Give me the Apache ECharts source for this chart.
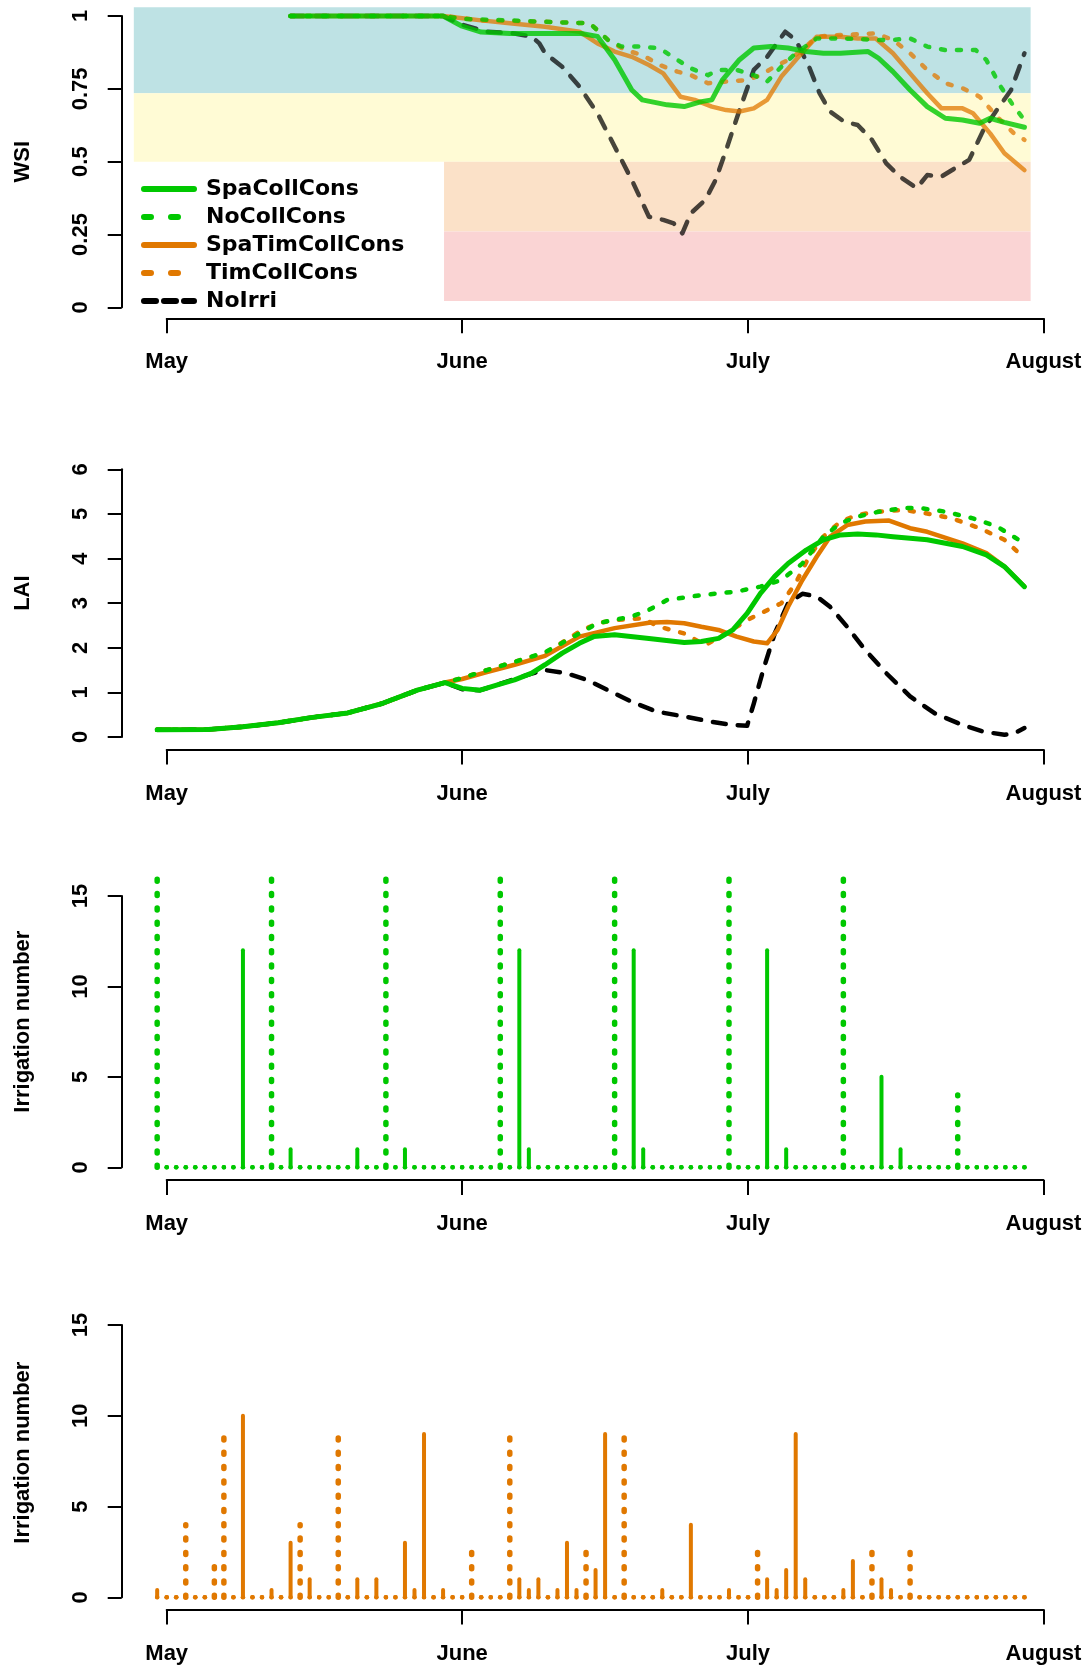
<!DOCTYPE html>
<html><head><meta charset="utf-8">
<script src="https://cdn.jsdelivr.net/npm/echarts@6/dist/echarts.min.js"></script>
<style>html,body{margin:0;padding:0;background:#fff}#c{width:1090px;height:1667px}</style>
</head><body><div id="c"></div>
<script>
// ---------------- DATA (x = days since 1 May) ----------------
const monthDays = [0, 31, 61, 92];
const monthNames = ['May', 'June', 'July', 'August'];
const seriesNames = ['SpaCollCons', 'NoCollCons', 'SpaTimCollCons', 'TimCollCons', 'NoIrri'];

// WSI stress-class bands
const bandLow   = [0.735, 0.5, 0.26, 0.022];
const bandHigh  = [1.03, 0.735, 0.5, 0.26];
const bandStart = [-3.45, -3.45, 29.1, 29.1];
const bandEnd   = [90.65, 90.65, 90.65, 90.65];

// WSI curves [day, value]
const wsiSpaCollCons = [[13,1],[29,1],[31,0.965],[33,0.945],[36,0.94],[40,0.94],[43.5,0.94],[45.2,0.93],[47,0.85],[48.8,0.746],[49.9,0.712],[52.5,0.695],[54.3,0.689],[56.1,0.706],[57.2,0.712],[58.3,0.78],[60.1,0.85],[61.6,0.89],[63.4,0.895],[65.2,0.89],[67.1,0.878],[68.9,0.872],[70.7,0.872],[73.6,0.878],[74.7,0.855],[76.2,0.809],[78,0.746],[79.8,0.689],[81.7,0.649],[83.5,0.643],[85.3,0.632],[86.4,0.649],[87.9,0.635],[90,0.618]];
const wsiNoCollCons = [[13,1],[29,1],[31,0.99],[36,0.985],[39.7,0.98],[44.4,0.975],[46.3,0.918],[47.7,0.895],[49.9,0.895],[51.7,0.889],[53.6,0.849],[55,0.82],[56.8,0.797],[57.9,0.815],[59.8,0.815],[61.6,0.797],[63,0.775],[64.5,0.826],[66,0.872],[68.2,0.923],[70.7,0.923],[74.4,0.918],[76.2,0.918],[78,0.923],[79.8,0.895],[81.7,0.883],[84.9,0.883],[86,0.849],[87.5,0.758],[88.9,0.689],[90,0.643]];
const wsiSpaTimCollCons = [[13,1],[29,1],[33,0.985],[36,0.975],[39.7,0.963],[43.3,0.946],[45.2,0.906],[47,0.878],[48.8,0.86],[50.6,0.832],[52.1,0.803],[53.9,0.723],[55.4,0.712],[57.2,0.689],[58.7,0.677],[60.1,0.672],[61.6,0.683],[63,0.712],[64.5,0.792],[66.3,0.86],[68.2,0.929],[70.7,0.929],[72.5,0.923],[74.4,0.923],[76.2,0.872],[78,0.803],[79.8,0.735],[81.3,0.683],[83.5,0.683],[84.6,0.666],[86.4,0.597],[87.9,0.529],[90,0.471]];
const wsiTimCollCons = [[13,1],[29,1],[33,0.985],[39.7,0.98],[44.4,0.975],[46.3,0.918],[48.1,0.883],[49.9,0.866],[51.7,0.832],[53.6,0.809],[55,0.797],[56.8,0.769],[58.7,0.775],[60.9,0.78],[62.3,0.797],[63.8,0.826],[65.2,0.849],[66.7,0.883],[68.2,0.929],[70.7,0.935],[74.4,0.94],[76.2,0.918],[78,0.872],[79.8,0.815],[81.7,0.769],[83.5,0.752],[85.3,0.723],[87.1,0.655],[88.9,0.597],[90,0.575]];
const wsiNoIrri = [[13,1],[29,1],[31,0.97],[33.6,0.946],[36.5,0.94],[38.3,0.929],[39.1,0.906],[39.7,0.872],[41.5,0.826],[43.3,0.758],[45.2,0.666],[47,0.552],[48.8,0.437],[50.6,0.311],[52.1,0.3],[53.2,0.288],[54.1,0.254],[55,0.323],[56.5,0.368],[57.6,0.437],[58.7,0.54],[60.1,0.677],[61.6,0.815],[63,0.86],[64.9,0.946],[66,0.918],[67.4,0.826],[68.5,0.735],[69.6,0.672],[71.1,0.637],[72.5,0.626],[74,0.575],[75.5,0.494],[76.9,0.449],[78.7,0.409],[79.8,0.454],[81.3,0.449],[82.7,0.477],[84.2,0.506],[85.7,0.609],[87.1,0.677],[88.6,0.746],[90,0.872]];

// LAI curves [day, value]
const laiEarly = [[-1,0.16],[4.4,0.17],[8,0.23],[11.7,0.32],[15.3,0.44],[19,0.54],[22.6,0.75],[26.3,1.05],[29.2,1.22]];
const laiSpaCollCons = laiEarly.concat([[31,1.09],[32.9,1.05],[34.7,1.17],[36.5,1.28],[38.3,1.43],[39.7,1.62],[41.5,1.88],[43.3,2.10],[44.8,2.25],[47,2.29],[50.6,2.21],[54.3,2.12],[56.1,2.14],[57.9,2.21],[59.4,2.40],[60.9,2.77],[62.3,3.22],[63.8,3.6],[65.2,3.89],[67.1,4.19],[68.9,4.42],[70.7,4.53],[72.5,4.55],[74.4,4.53],[76.2,4.49],[79.8,4.42],[83.5,4.27],[86,4.08],[87.9,3.82],[90,3.37]]);
const laiNoCollCons = laiEarly.concat([[31,1.32],[33.6,1.5],[37.2,1.73],[39.7,1.9],[43.3,2.32],[45.2,2.55],[48.8,2.70],[50.6,2.85],[52.5,3.07],[56.1,3.18],[59.8,3.26],[62.3,3.37],[64.5,3.52],[66.7,3.89],[68.9,4.49],[70.7,4.79],[72.5,4.94],[74.7,5.05],[77.3,5.13],[79.1,5.13],[81.7,5.05],[84.6,4.9],[87.1,4.72],[90,4.34]]);
const laiSpaTimCollCons = laiEarly.concat([[31,1.3],[33.5,1.45],[36.5,1.62],[39.7,1.82],[43.3,2.25],[47,2.44],[50.6,2.56],[52.5,2.58],[54.3,2.55],[56.1,2.47],[57.9,2.40],[59.8,2.25],[61.6,2.14],[63,2.10],[64.1,2.40],[65.2,2.92],[66.7,3.52],[68.2,4.04],[69.6,4.49],[71.4,4.75],[73.3,4.83],[75.8,4.85],[78,4.68],[79.8,4.6],[83.5,4.34],[86,4.12],[87.9,3.82],[90,3.37]]);
const laiTimCollCons = laiEarly.concat([[31,1.32],[33.6,1.5],[37.2,1.73],[39.7,1.88],[43.3,2.36],[45.2,2.55],[47,2.62],[49.9,2.66],[51.7,2.47],[54.3,2.32],[56.5,2.06],[58.7,2.32],[60.9,2.62],[62.3,2.77],[64.5,3.0],[66,3.45],[67.4,4.04],[68.9,4.49],[70.7,4.83],[72.5,4.98],[74.7,5.05],[77.3,5.09],[79.8,5.01],[82.4,4.9],[85.3,4.68],[87.9,4.42],[90,4.01]]);
const laiNoIrri = laiEarly.concat([[31,1.07],[32.9,1.05],[34.7,1.17],[36.5,1.3],[38.3,1.42],[39.7,1.5],[41.9,1.43],[44.1,1.28],[46.3,1.05],[48.8,0.79],[51.4,0.57],[54.3,0.46],[57.2,0.34],[59.4,0.27],[60.9,0.25],[61.6,0.75],[62.7,1.58],[63.8,2.32],[65.2,3.0],[66.7,3.21],[68.2,3.15],[69.6,2.92],[71.4,2.47],[73.3,1.95],[75.5,1.43],[78,0.91],[80.6,0.53],[83.5,0.27],[85.7,0.12],[87.9,0.05],[88.9,0.08],[90,0.2]]);

// Daily irrigation numbers, days -1 .. 90
const irrDays = [-1,0,1,2,3,4,5,6,7,8, 9,10,11,12,13,14,15,16,17,18, 19,20,21,22,23,24,25,26,27,28, 29,30,31,32,33,34,35,36,37,38, 39,40,41,42,43,44,45,46,47,48, 49,50,51,52,53,54,55,56,57,58, 59,60,61,62,63,64,65,66,67,68, 69,70,71,72,73,74,75,76,77,78, 79,80,81,82,83,84,85,86,87,88, 89,90];
const irrNoCollCons = [16,0,0,0,0,0,0,0,0,0, 0,0,16,0,0,0,0,0,0,0, 0,0,0,0,16,0,0,0,0,0, 0,0,0,0,0,0,16,0,0,0, 0,0,0,0,0,0,0,0,16,0, 0,0,0,0,0,0,0,0,0,0, 16,0,0,0,0,0,0,0,0,0, 0,0,16,0,0,0,0,0,0,0, 0,0,0,0,4,0,0,0,0,0, 0,0];
const irrSpaCollCons = [0,0,0,0,0,0,0,0,0,12, 0,0,0,0,1,0,0,0,0,0, 0,1,0,0,0,0,1,0,0,0, 0,0,0,0,0,0,0,0,12,1, 0,0,0,0,0,0,0,0,0,0, 12,1,0,0,0,0,0,0,0,0, 0,0,0,0,12,0,1,0,0,0, 0,0,0,0,0,0,5,0,1,0, 0,0,0,0,0,0,0,0,0,0, 0,0];
const irrTimCollCons = [0,0,0,4,0,0,2,9,0,0, 0,0,0,0,0,4,0,0,0,9, 0,0,0,0,0,0,0,0,0,0, 0,0,0,3,0,0,0,9,0,0, 0,0,0,0,0,3,0,0,0,9, 0,0,0,0,0,0,0,0,0,0, 0,0,0,3,0,0,0,0,0,0, 0,0,0,0,0,3,0,0,0,3, 0,0,0,0,0,0,0,0,0,0, 0,0];
const irrSpaTimCollCons = [0.4,0,0,0,0,0,0,0,0,10, 0,0,0.4,0,3,0,1,0,0,0, 0,1,0,1,0,0,3,0.4,9,0, 0.4,0,0,0,0,0,0,0,1,0.4, 1,0,0.4,3,0.4,0,1.5,9,0,0, 0,0,0,0.4,0,0,4,0,0,0, 0.4,0,0,0,1,0.4,1.5,9,1,0, 0,0,0.4,2,0,0,1,0.4,0,0, 0,0,0,0,0,0,0,0,0,0, 0,0];

// ---------------- LAYOUT ----------------
const X0 = 166.7, XEND = 1043.5, YAXIS_X = 121.7;
const PPD = (XEND - X0) / 92;
const panels = [
  {yMin:0, yMax:1,  interval:0.25, py0:307.3,  py1:16,    axisY:318.3,  name:'WSI', shift:0},
  {yMin:0, yMax:6,  interval:1,    py0:737,    py1:469.3, axisY:749.5,  name:'LAI', shift:20},
  {yMin:0, yMax:15, interval:5,    py0:1167.3, py1:896,   axisY:1180,   name:'Irrigation number', shift:20},
  {yMin:0, yMax:15, interval:5,    py0:1597.3, py1:1325,  axisY:1609.5, name:'Irrigation number', shift:17}
];
const GREEN = '#00c800', ORANGE = '#e07800', BLACK = '#000000';
const xFont = {fontFamily:'Liberation Sans', fontWeight:'bold', fontSize:22, color:'#000'};
const legFont = {fontFamily:'DejaVu Sans', fontWeight:'bold', fontSize:22, color:'#000'};
const vFont = {fontFamily:'Liberation Sans', fontWeight:'bold', fontSize:22, color:'#000'};

const grid = [], xAxis = [], yAxis = [];
panels.forEach((p, i) => {
  const h = p.py0 - p.py1, ppu = h / (p.yMax - p.yMin), pad = 14;
  // axis grid
  grid.push({left:X0, top:p.py1, width:XEND - X0, height:h});
  xAxis.push({type:'value', gridIndex:2*i, min:0, max:92, offset:p.axisY - p.py0,
    axisLine:{show:true, onZero:false, lineStyle:{color:'#000', width:2}},
    axisTick:{show:true, customValues:monthDays, length:15, lineStyle:{color:'#000', width:2}},
    axisLabel:Object.assign({customValues:monthDays, margin:33,
      formatter:v => monthNames[monthDays.indexOf(v)]}, xFont),
    splitLine:{show:false}});
  yAxis.push({type:'value', gridIndex:2*i, min:p.yMin, max:p.yMax, interval:p.interval, offset:X0 - YAXIS_X,
    axisLine:{show:true, onZero:false, lineStyle:{color:'#000', width:2}},
    axisTick:{show:true, length:14, lineStyle:{color:'#000', width:2}},
    axisLabel:Object.assign({rotate:90, margin:30}, vFont),
    splitLine:{show:false},
    name:p.name, nameLocation:'middle', nameRotate:90, nameGap:88,
    nameTextStyle:Object.assign({padding:[0,0,0,p.shift]}, vFont)});
  // data grid
  grid.push({left:YAXIS_X, top:p.py1 - pad, width:XEND - YAXIS_X, height:h + 2*pad});
  xAxis.push({type:'value', gridIndex:2*i+1, min:-(X0 - YAXIS_X)/PPD, max:92, show:false,
    splitLine:{show:false}});
  yAxis.push({type:'value', gridIndex:2*i+1, min:p.yMin - pad/ppu, max:p.yMax + pad/ppu, show:false,
    splitLine:{show:false}});
});

const styles = {
  SpaCollCons:    {color:GREEN,  type:'solid', width:5},
  NoCollCons:     {color:GREEN,  type:[4,12], width:4.5},
  SpaTimCollCons: {color:ORANGE, type:'solid', width:4.5},
  TimCollCons:    {color:ORANGE, type:[4,12], width:4.5},
  NoIrri:         {color:BLACK,  type:[13,12], width:4.5}
};
function lineSeries(name, data, g, opacity, z) {
  const s = styles[name];
  return {type:'line', name, xAxisIndex:g, yAxisIndex:g, data, symbol:'none', showSymbol:false,
    smooth:false, z, silent:true,
    lineStyle:{color:s.color, width:s.width, type:s.type, cap:'round', join:'round', opacity},
    itemStyle:{color:s.color}};
}
function irrSeries(name, vals, g, color, dotted, z) {
  return {type:'custom', name, xAxisIndex:g, yAxisIndex:g, z, silent:true,
    data: irrDays.map((d, k) => [d, vals[k]]),
    renderItem: (params, api) => {
      const d = api.value(0), v = api.value(1);
      const p0 = api.coord([d, 0]);
      if (v === 0) return {type:'circle', shape:{cx:p0[0], cy:p0[1], r:2.3}, style:{fill:color}};
      const p1 = api.coord([d, v]);
      return {type:'line', shape:{x1:p0[0], y1:p0[1], x2:p1[0], y2:p1[1]},
        style:{stroke:color, lineWidth:dotted ? 5.5 : 4, lineDash:dotted ? [2, 12.3] : null, lineCap:'round'}};
    }};
}

const bandColors = ['#bee2e4', '#fffbd5', '#fbe1c8', '#fad4d4'];
const series = [
  {type:'line', name:'bands', xAxisIndex:1, yAxisIndex:1, data:[], z:1, silent:true,
   markArea:{silent:true, data: bandLow.map((lo, k) => [
     {xAxis:bandStart[k], yAxis:lo, itemStyle:{color:bandColors[k], opacity:1}},
     {xAxis:bandEnd[k], yAxis:bandHigh[k]}])}},
  lineSeries('NoIrri', wsiNoIrri, 1, 0.72, 3),
  lineSeries('TimCollCons', wsiTimCollCons, 1, 0.75, 4),
  lineSeries('SpaTimCollCons', wsiSpaTimCollCons, 1, 0.75, 5),
  lineSeries('NoCollCons', wsiNoCollCons, 1, 0.8, 6),
  lineSeries('SpaCollCons', wsiSpaCollCons, 1, 0.8, 7),
  lineSeries('NoIrri', laiNoIrri, 3, 1, 3),
  lineSeries('TimCollCons', laiTimCollCons, 3, 1, 4),
  lineSeries('SpaTimCollCons', laiSpaTimCollCons, 3, 1, 5),
  lineSeries('NoCollCons', laiNoCollCons, 3, 1, 6),
  lineSeries('SpaCollCons', laiSpaCollCons, 3, 1, 7),
  irrSeries('NoCollCons', irrNoCollCons, 5, GREEN, true, 3),
  irrSeries('SpaCollCons', irrSpaCollCons, 5, GREEN, false, 4),
  irrSeries('TimCollCons', irrTimCollCons, 7, ORANGE, true, 3),
  irrSeries('SpaTimCollCons', irrSpaTimCollCons, 7, ORANGE, false, 4)
];

const legendDash = {SpaCollCons:'solid', NoCollCons:[7,20], SpaTimCollCons:'solid', TimCollCons:[7,20], NoIrri:[12,8]};
const chart = echarts.init(document.getElementById('c'), null, {renderer:'canvas'});
chart.setOption({
  animation:false,
  backgroundColor:'#ffffff',
  grid, xAxis, yAxis, series,
  legend:{orient:'vertical', left:141, top:178, itemWidth:50, itemHeight:14, itemGap:6,
    selectedMode:false, padding:0,
    textStyle:Object.assign({padding:[0,0,0,7], lineHeight:21}, legFont),
    data: seriesNames.map(n => ({name:n,
      lineStyle:{color:styles[n].color, width:6, type:legendDash[n], cap:'round', opacity:1},
      itemStyle:{color:'rgba(0,0,0,0)', borderWidth:0, opacity:0}}))}
});
</script></body></html>
